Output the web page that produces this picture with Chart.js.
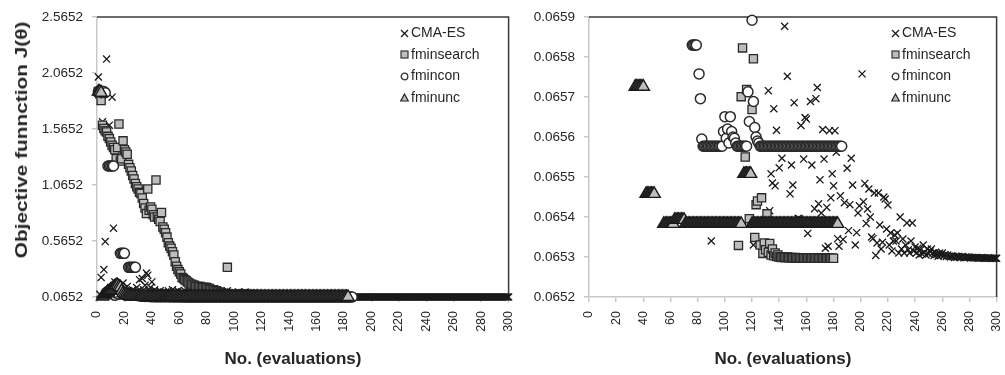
<!DOCTYPE html>
<html>
<head>
<meta charset="utf-8">
<script src="https://cdn.jsdelivr.net/npm/chart.js@4.4.1/dist/chart.umd.min.js"></script>
<style>
  body { margin: 0; background: #fff; width: 1005px; height: 375px; overflow: hidden; position: relative; font-family: "Liberation Sans", Arial, sans-serif; color: #262626; }
  canvas { position: absolute; top: 0; }
  #leftChart { left: 0; }
  #rightChart { left: 517px; }
  .ytitle { position: absolute; left: 22px; top: 140px; font-size: 16px; font-weight: bold; white-space: nowrap;
            transform: translate(-50%, -50%) rotate(-90deg) scaleX(1.3); }
  .xtitle { position: absolute; top: 359px; font-size: 17px; font-weight: bold; white-space: nowrap;
            transform: translate(-50%, -50%); }
  .legend { position: absolute; top: 22px; font-size: 14px; }
  .legend div { height: 21.5px; line-height: 21.5px; white-space: nowrap; }
  .legend svg { width: 9px; height: 9px; margin-right: 2px; vertical-align: -0.5px; }
</style>
</head>
<body>
<canvas id="leftChart" width="517" height="375"></canvas>
<canvas id="rightChart" width="488" height="375"></canvas>
<div class="ytitle">Objective funnction J(θ)</div>
<div class="xtitle" style="left:293px">No. (evaluations)</div>
<div class="xtitle" style="left:783px">No. (evaluations)</div>
<div class="legend" id="legendLeft" style="left:400px"></div>
<div class="legend" id="legendRight" style="left:891px"></div>
<script>
// objective value per evaluation (evaluation number = position in array, starting at 1)
const cmaesJ = [
    2.03, 0.09, 0.24, 1.63, 0.31, 0.56, 2.19, 0.12, 1.60, 0.15,
    1.85, 0.68, 0.20, 0.10, 0.17, 0.13, 0.09, 0.11, 0.19, 0.14,
    0.08, 0.16, 0.12, 0.10, 0.09, 0.13, 0.11, 0.09, 0.15, 0.12,
    0.22, 0.10, 0.23, 0.13, 0.17, 0.28, 0.26, 0.12, 0.15, 0.20,
    0.10, 0.13, 0.09, 0.11, 0.08, 0.12, 0.095, 0.10, 0.085, 0.11,
    0.09, 0.12, 0.08, 0.10, 0.13, 0.085, 0.11, 0.09, 0.12, 0.08,
    0.10, 0.11, 0.085, 0.12, 0.09, 0.10, 0.08, 0.115, 0.09, 0.10,
    0.085, 0.11, 0.09, 0.12, 0.08, 0.10, 0.095, 0.11, 0.085, 0.10,
    0.09, 0.115, 0.08, 0.10, 0.09, 0.11, 0.085, 0.10, 0.09, 0.06534,
    0.10, 0.085, 0.11, 0.09, 0.12, 0.08, 0.10, 0.09, 0.105, 0.085,
    0.10, 0.09, 0.11, 0.08, 0.10, 0.095, 0.085, 0.11, 0.09, 0.10,
    0.085, 0.08, 0.075, 0.072, 0.070, 0.068, 0.070, 0.067, 0.068, 0.066,
    0.06533, 0.0665, 0.0670, 0.0660, 0.0665, 0.0660, 0.0668, 0.0660, 0.0662, 0.0660,
    0.0660, 0.065716, 0.065416, 0.065508, 0.065485, 0.065671, 0.065478, 0.065617, 0.0661, 0.065523,
    0.0660, 0.065547, 0.0662, 0.065877, 0.0661, 0.065752, 0.0660, 0.065458, 0.065530, 0.065480,
    0.065686, 0.0661, 0.0660, 0.065397, 0.065395, 0.065629, 0.0662, 0.065545, 0.065649, 0.065645,
    0.065359, 0.0660, 0.065689, 0.065530, 0.0661, 0.065421, 0.065696, 0.065724, 0.065433, 0.065493,
    0.065410, 0.065619, 0.065545, 0.065322, 0.065424, 0.065327, 0.065616, 0.065448, 0.065508, 0.065478,
    0.065616, 0.065562, 0.065346, 0.065327, 0.065453, 0.0660, 0.065344, 0.065436, 0.0661, 0.065522,
    0.065366, 0.065431, 0.065547, 0.065480, 0.0660, 0.065330, 0.065361, 0.065410, 0.065428, 0.0661,
    0.065758, 0.065438, 0.065484, 0.065384, 0.065420, 0.065470, 0.065400, 0.065350, 0.065346, 0.065460,
    0.065304, 0.065335, 0.065460, 0.065380, 0.065320, 0.065337, 0.065450, 0.065445, 0.065370, 0.065430,
    0.065330, 0.065360, 0.065315, 0.065340, 0.065355, 0.065340, 0.065360, 0.065310, 0.065400, 0.065320,
    0.065345, 0.065310, 0.065330, 0.065385, 0.065318, 0.065310, 0.065340, 0.065385, 0.065315, 0.065325,
    0.065310, 0.065322, 0.065305, 0.065318, 0.065308, 0.065330, 0.065312, 0.065305, 0.065320, 0.065308,
    0.065315, 0.065320, 0.065310, 0.065304, 0.065312, 0.065306, 0.065302, 0.065310, 0.065304, 0.065310,
    0.065303, 0.065306, 0.065301, 0.065305, 0.065302, 0.065300, 0.065303, 0.065301, 0.065299, 0.065302,
    0.065300, 0.065301, 0.065299, 0.065300, 0.065301, 0.065298, 0.065300, 0.065299, 0.065300, 0.065299,
    0.065298, 0.065299, 0.065298, 0.065298, 0.065299, 0.065298, 0.065297, 0.065298, 0.065298, 0.065297,
    0.065298, 0.065297, 0.065297, 0.065298, 0.065297, 0.065297, 0.065297, 0.065297, 0.065297, 0.065297
];

const fminsearchJ = [
    1.90, 1.88, 1.82, 1.60, 1.57, 1.55, 1.54, 1.50, 1.48, 1.45,
    1.42, 1.40, 1.38, 1.30, 1.40, 1.61, 1.28, 1.30, 1.46, 1.38,
    1.36, 1.34, 1.25, 1.22, 1.19, 1.15, 1.12, 1.08, 1.05, 1.03,
    1.00, 0.99, 0.95, 0.90, 0.86, 0.81, 1.03, 0.84, 0.87, 0.85,
    0.80, 0.78, 1.11, 0.78, 0.76, 0.74, 0.82, 0.69, 0.67, 0.64,
    0.60, 0.55, 0.52, 0.50, 0.47, 0.44, 0.38, 0.34, 0.31, 0.29,
    0.27, 0.24, 0.23, 0.22, 0.21, 0.20, 0.19, 0.18, 0.18, 0.17,
    0.17, 0.16, 0.16, 0.16, 0.16, 0.15, 0.15, 0.15, 0.15, 0.15,
    0.14, 0.14, 0.13, 0.13, 0.13, 0.12, 0.12, 0.11, 0.11, 0.10,
    0.10, 0.09, 0.09, 0.085, 0.33, 0.080, 0.078, 0.075, 0.072, 0.070,
    0.069, 0.068, 0.067, 0.0668, 0.0665, 0.0663, 0.0662, 0.0661, 0.0660, 0.065329,
    0.0661, 0.065701, 0.065823, 0.0660, 0.065550, 0.065719, 0.0661, 0.065396, 0.0660, 0.065669,
    0.065796, 0.065349, 0.065431, 0.065440, 0.0660, 0.065330, 0.065448, 0.065309, 0.065335, 0.065318,
    0.065408, 0.065312, 0.065334, 0.065305, 0.065320, 0.065303, 0.065310, 0.065301, 0.065305, 0.065300,
    0.065300, 0.065299, 0.065300, 0.065299, 0.065299, 0.065300, 0.065299, 0.065298, 0.065299, 0.065298,
    0.065298, 0.065299, 0.065298, 0.065298, 0.065298, 0.065297, 0.065298, 0.065298, 0.065297, 0.065298,
    0.065297, 0.065298, 0.065297, 0.065297, 0.065298, 0.065297, 0.065297, 0.065297, 0.065297, 0.065297,
    0.065297, 0.065297, 0.065297, 0.065297, 0.065297, 0.065297, 0.065297, 0.065297, 0.065297, 0.065297
];

const fminconJ = [
    1.90, 1.91, 1.89, 1.90, 1.90, 1.89, 0.09, 1.235, 1.235, 1.235,
    1.235, 1.235, 0.08, 0.10, 0.12, 0.09, 0.455, 0.455, 0.455, 0.455,
    0.08, 0.09, 0.33, 0.33, 0.33, 0.33, 0.33, 0.33, 0.10, 0.085,
    0.080, 0.075, 0.078, 0.072, 0.070, 0.074, 0.071, 0.069, 0.070, 0.068,
    0.069, 0.0685, 0.068, 0.0683, 0.0678, 0.068, 0.0676, 0.0674, 0.0675, 0.0672,
    0.0671, 0.0673, 0.0670, 0.0669, 0.0668, 0.0670, 0.0667, 0.0666, 0.0668, 0.0665,
    0.0664, 0.0666, 0.0663, 0.0664, 0.0662, 0.0663, 0.0661, 0.0662, 0.0661, 0.0660,
    0.0661, 0.0660, 0.0661, 0.0660, 0.0660, 0.06583, 0.06583, 0.06583, 0.06583, 0.0660,
    0.065758, 0.065696, 0.065595, 0.065577, 0.065577, 0.065577, 0.065577, 0.065577, 0.065577, 0.065577,
    0.065577, 0.065577, 0.065577, 0.065577, 0.065577, 0.065577, 0.065577, 0.065577, 0.065614, 0.065651,
    0.065597, 0.065620, 0.065585, 0.065651, 0.065614, 0.065600, 0.065597, 0.065585, 0.065577, 0.065577,
    0.065577, 0.065577, 0.065577, 0.065577, 0.065577, 0.065577, 0.065713, 0.065639, 0.0660, 0.065892,
    0.065689, 0.065624, 0.065600, 0.065590, 0.065585, 0.065577, 0.065577, 0.065577, 0.065577, 0.065577,
    0.065577, 0.065577, 0.065577, 0.065577, 0.065577, 0.065577, 0.065577, 0.065577, 0.065577, 0.065577,
    0.065577, 0.065577, 0.065577, 0.065577, 0.065577, 0.065577, 0.065577, 0.065577, 0.065577, 0.065577,
    0.065577, 0.065577, 0.065577, 0.065577, 0.065577, 0.065577, 0.065577, 0.065577, 0.065577, 0.065577,
    0.065577, 0.065577, 0.065577, 0.065577, 0.065577, 0.065577, 0.065577, 0.065577, 0.065577, 0.065577,
    0.065577, 0.065577, 0.065577, 0.065577, 0.065577, 0.065577, 0.065577, 0.065577, 0.065577, 0.065577,
    0.065577, 0.065577, 0.065577, 0.065577, 0.065577, 0.065577
];

const fminuncJ = [
    1.90, 1.90, 1.89, 0.07, 0.08, 0.09, 0.10, 0.11, 0.12, 0.13,
    0.14, 0.15, 0.16, 0.17, 0.17, 0.16, 0.15, 0.12, 0.10, 0.09,
    0.085, 0.080, 0.078, 0.075, 0.073, 0.072, 0.070, 0.069, 0.068, 0.067,
    0.0668, 0.0665, 0.0662, 0.065726, 0.065726, 0.065726, 0.065726, 0.065726, 0.065726, 0.065726,
    0.0660, 0.065458, 0.065458, 0.065458, 0.065458, 0.065458, 0.065458, 0.065458, 0.0662, 0.0661,
    0.0660, 0.0661, 0.0660, 0.0660, 0.065383, 0.065383, 0.065383, 0.065383, 0.065383, 0.065383,
    0.065383, 0.065383, 0.065393, 0.065393, 0.065393, 0.065393, 0.065393, 0.065393, 0.065393, 0.065393,
    0.065383, 0.065383, 0.065383, 0.065383, 0.065383, 0.065383, 0.065383, 0.065383, 0.065383, 0.065383,
    0.065383, 0.065383, 0.065383, 0.065383, 0.065383, 0.065383, 0.065383, 0.065383, 0.065383, 0.065383,
    0.065383, 0.065383, 0.065383, 0.065383, 0.065383, 0.065383, 0.065383, 0.065383, 0.065383, 0.065383,
    0.065383, 0.065383, 0.065383, 0.065383, 0.065383, 0.065383, 0.065383, 0.065383, 0.065383, 0.065383,
    0.065383, 0.065383, 0.0660, 0.065508, 0.065508, 0.065508, 0.065508, 0.065508, 0.065508, 0.065383,
    0.065383, 0.065383, 0.065383, 0.065383, 0.065383, 0.065383, 0.065383, 0.065383, 0.065383, 0.065383,
    0.065383, 0.065383, 0.065383, 0.065383, 0.065383, 0.065383, 0.065383, 0.065383, 0.065383, 0.065383,
    0.065383, 0.065383, 0.065383, 0.065383, 0.065383, 0.065383, 0.065383, 0.065383, 0.065383, 0.065383,
    0.065383, 0.065383, 0.065383, 0.065383, 0.065383, 0.065383, 0.065383, 0.065383, 0.065383, 0.065383,
    0.065383, 0.065383, 0.065383, 0.065383, 0.065383, 0.065383, 0.065383, 0.065383, 0.065383, 0.065383,
    0.065383, 0.065383, 0.065383, 0.065383, 0.065383, 0.065383, 0.065383, 0.065383, 0.065383, 0.065383,
    0.065383, 0.065383, 0.065383
];

const seriesNames = ['CMA-ES', 'fminsearch', 'fmincon', 'fminunc'];
const xTicks = [0, 20, 40, 60, 80, 100, 120, 140, 160, 180, 200, 220, 240, 260, 280, 300];
const leftYTicks = [0.0652, 0.5652, 1.0652, 1.5652, 2.0652, 2.5652];
const rightYTicks = [0.0652, 0.0653, 0.0654, 0.0655, 0.0656, 0.0657, 0.0658, 0.0659];

const FONT = '"Liberation Sans", Arial, sans-serif';
const DARK = '#262626';
const AXIS_GRAY = '#c9c9c9';
const FILL_GRAY = '#bdbdbd';

const toPoints = arr => arr.map((y, i) => ({ x: i + 1, y: y }));

// each chart needs its own dataset objects
function makeDatasets() {
    return [
        { label: seriesNames[0], data: toPoints(cmaesJ), pointStyle: 'crossRot', pointRadius: 5,
          borderColor: '#1a1a1a', pointBorderWidth: 1.3, backgroundColor: '#1a1a1a', order: 3, clip: 8 },
        { label: seriesNames[1], data: toPoints(fminsearchJ), pointStyle: 'rect', pointRadius: 5.8,
          borderColor: '#2a2a2a', pointBorderWidth: 1.3, backgroundColor: FILL_GRAY, order: 2, clip: 8 },
        { label: seriesNames[2], data: toPoints(fminconJ), pointStyle: 'circle', pointRadius: 5,
          borderColor: '#2a2a2a', pointBorderWidth: 1.5, backgroundColor: '#fff', order: 1, clip: 8 },
        { label: seriesNames[3], data: toPoints(fminuncJ), pointStyle: 'triangle', pointRadius: 7,
          borderColor: '#1a1a1a', pointBorderWidth: 1.4, backgroundColor: FILL_GRAY, order: 0, clip: 8 }
    ];
}

// dark top and right frame of the plot area (axes themselves are light gray)
const frameLines = {
    id: 'frameLines',
    beforeDatasetsDraw(chart) {
        const { ctx, chartArea: a } = chart;
        ctx.save();
        ctx.strokeStyle = '#3a3a3a';
        ctx.lineWidth = 1.5;
        ctx.beginPath();
        ctx.moveTo(a.left, a.top);
        ctx.lineTo(a.right, a.top);
        ctx.lineTo(a.right, a.bottom);
        ctx.stroke();
        ctx.restore();
    }
};

function makeChart(canvasId, yMin, yMax, yTicks, yWidth, padLeft) {
    return new Chart(document.getElementById(canvasId).getContext('2d'), {
        type: 'scatter',
        data: { datasets: makeDatasets() },
        plugins: [frameLines],
        options: {
            responsive: false,
            animation: false,
            events: [],
            layout: { padding: { top: 15, right: 8, bottom: 0, left: padLeft } },
            plugins: { legend: { display: false }, tooltip: { enabled: false } },
            scales: {
                x: {
                    type: 'linear', min: 0, max: 300,
                    afterBuildTicks: s => { s.ticks = xTicks.map(v => ({ value: v })); },
                    afterFit: s => { s.height = 78; s.paddingRight = 7; s.paddingLeft = 7; },
                    ticks: { autoSkip: false, minRotation: 90, maxRotation: 90, padding: 9,
                             color: DARK, font: { family: FONT, size: 12.5 } },
                    grid: { drawOnChartArea: false, tickLength: 5, color: AXIS_GRAY, lineWidth: 1.5 },
                    border: { color: AXIS_GRAY, width: 1.5 }
                },
                y: {
                    type: 'linear', min: yMin, max: yMax,
                    afterBuildTicks: s => { s.ticks = yTicks.map(v => ({ value: v })); },
                    afterFit: s => { s.width = yWidth; },
                    ticks: { padding: 9, color: DARK, font: { family: FONT, size: 13.5 },
                             callback: v => v.toFixed(4) },
                    grid: { drawOnChartArea: false, tickLength: 5, color: AXIS_GRAY, lineWidth: 1.5 },
                    border: { color: AXIS_GRAY, width: 1.5 }
                }
            }
        }
    });
}

makeChart('leftChart', leftYTicks[0], leftYTicks[leftYTicks.length - 1], leftYTicks, 57, 40);
makeChart('rightChart', rightYTicks[0], rightYTicks[rightYTicks.length - 1], rightYTicks, 72, 0);

// legends (drawn as HTML inside the plot areas)
const markerSvg = [
    '<svg viewBox="0 0 9 9"><path d="M1 1L8 8M8 1L1 8" stroke="#1a1a1a" stroke-width="1.3"/></svg>',
    '<svg viewBox="0 0 9 9"><rect x="1" y="1" width="7" height="7" fill="' + FILL_GRAY + '" stroke="#333" stroke-width="1.2"/></svg>',
    '<svg viewBox="0 0 9 9"><circle cx="4.5" cy="4.5" r="3.3" fill="#fff" stroke="#333" stroke-width="1.3"/></svg>',
    '<svg viewBox="0 0 9 9"><path d="M4.5 1L8.3 8H0.7Z" fill="' + FILL_GRAY + '" stroke="#222" stroke-width="1.2"/></svg>'
];
['legendLeft', 'legendRight'].forEach(id => {
    document.getElementById(id).innerHTML = seriesNames
        .map((name, i) => '<div>' + markerSvg[i] + name + '</div>').join('');
});
</script>
</body>
</html>
